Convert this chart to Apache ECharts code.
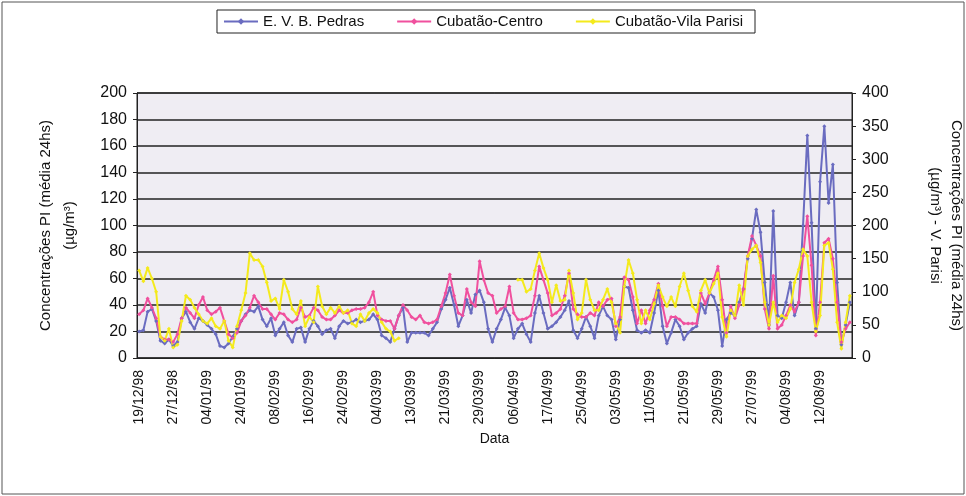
<!DOCTYPE html>
<html>
<head>
<meta charset="utf-8">
<script src="https://cdn.jsdelivr.net/npm/echarts@6/dist/echarts.min.js"></script>
<style>
html, body { margin: 0; padding: 0; background: #fff; }
#chart { width: 966px; height: 496px; }
</style>
</head>
<body>
<div id="chart"></div>
<script>
// datas de amostragem (so cada 8a aparece no eixo)
var datas = [
    '19/12/98', '20/12/98', '21/12/98', '22/12/98', '23/12/98', '24/12/98', '25/12/98', '26/12/98',
    '27/12/98', '28/12/98', '29/12/98', '30/12/98', '31/12/98', '01/01/99', '02/01/99', '03/01/99',
    '04/01/99', '05/01/99', '06/01/99', '07/01/99', '08/01/99', '09/01/99', '10/01/99', '11/01/99',
    '24/01/99', '25/01/99', '26/01/99', '27/01/99', '28/01/99', '29/01/99', '30/01/99', '31/01/99',
    '08/02/99', '09/02/99', '10/02/99', '11/02/99', '12/02/99', '13/02/99', '14/02/99', '15/02/99',
    '16/02/99', '17/02/99', '18/02/99', '19/02/99', '20/02/99', '21/02/99', '22/02/99', '23/02/99',
    '24/02/99', '25/02/99', '26/02/99', '27/02/99', '28/02/99', '01/03/99', '02/03/99', '03/03/99',
    '04/03/99', '05/03/99', '06/03/99', '07/03/99', '08/03/99', '09/03/99', '10/03/99', '11/03/99',
    '13/03/99', '14/03/99', '15/03/99', '16/03/99', '17/03/99', '18/03/99', '19/03/99', '20/03/99',
    '21/03/99', '22/03/99', '23/03/99', '24/03/99', '25/03/99', '26/03/99', '27/03/99', '28/03/99',
    '29/03/99', '30/03/99', '31/03/99', '01/04/99', '02/04/99', '03/04/99', '04/04/99', '05/04/99',
    '06/04/99', '07/04/99', '08/04/99', '09/04/99', '10/04/99', '11/04/99', '12/04/99', '13/04/99',
    '17/04/99', '18/04/99', '19/04/99', '20/04/99', '21/04/99', '22/04/99', '23/04/99', '24/04/99',
    '25/04/99', '26/04/99', '27/04/99', '28/04/99', '29/04/99', '30/04/99', '01/05/99', '02/05/99',
    '03/05/99', '04/05/99', '05/05/99', '06/05/99', '07/05/99', '08/05/99', '09/05/99', '10/05/99',
    '11/05/99', '12/05/99', '13/05/99', '14/05/99', '15/05/99', '16/05/99', '17/05/99', '18/05/99',
    '21/05/99', '22/05/99', '23/05/99', '24/05/99', '25/05/99', '26/05/99', '27/05/99', '28/05/99',
    '29/05/99', '30/05/99', '31/05/99', '01/06/99', '02/06/99', '03/06/99', '04/06/99', '05/06/99',
    '27/07/99', '28/07/99', '29/07/99', '30/07/99', '31/07/99', '01/08/99', '02/08/99', '03/08/99',
    '04/08/99', '05/08/99', '06/08/99', '07/08/99', '08/08/99', '09/08/99', '10/08/99', '11/08/99',
    '12/08/99', '13/08/99', '14/08/99', '15/08/99', '16/08/99', '17/08/99', '18/08/99', '19/08/99'
];

// E. V. B. Pedras (eixo esquerdo)
var pedras = [
    20, 21, 35, 37, 28, 13, 11, 14, 9, 12, 30, 35, 27, 22, 30, 28, 25, 22, 18, 9, 8, 11, 16, 22, 28, 33, 36, 35,
    39, 29, 24, 30, 17, 22, 27, 17, 12, 22, 23, 12, 22, 28, 24, 18, 21, 22, 15, 24, 28, 26, 27, 29, 27, 28, 29, 33,
    29, 17, 15, 12, 22, 32, 38, 12, 19, 19, 19, 19, 17, 22, 27, 37, 44, 53, 40, 24, 32, 44, 34, 48, 51, 42, 22, 12,
    22, 29, 38, 32, 15, 22, 26, 18, 12, 34, 47, 34, 22, 24, 27, 31, 36, 43, 21, 15, 22, 31, 24, 15, 32, 39, 32, 29,
    14, 29, 54, 53, 36, 21, 19, 21, 19, 34, 51, 24, 11, 19, 29, 24, 14, 19, 22, 24, 41, 34, 49, 46, 36, 9, 29, 34,
    32, 42, 52, 75, 90, 112, 95, 57, 25, 111, 32, 30, 42, 57, 32, 42, 100, 168, 102, 22, 133, 175, 117, 146, 57, 10, 25, 42
];

// Cubatão-Centro (eixo esquerdo)
var centro = [
    33, 36, 45, 38, 30, 16, 14, 14, 12, 18, 30, 38, 34, 30, 40, 46, 36, 33, 35, 38, 28, 18, 15, 19, 28, 32, 38, 47,
    42, 37, 37, 33, 29, 34, 33, 29, 27, 29, 38, 31, 32, 38, 36, 31, 29, 29, 32, 36, 34, 34, 36, 37, 37, 38, 42, 50,
    32, 29, 28, 28, 22, 32, 40, 36, 31, 29, 32, 27, 26, 27, 29, 39, 49, 63, 47, 34, 32, 52, 42, 39, 73, 59, 49, 47,
    34, 37, 39, 54, 34, 29, 29, 30, 32, 47, 69, 59, 49, 32, 34, 37, 47, 64, 37, 33, 31, 31, 34, 32, 42, 39, 44, 45,
    24, 31, 61, 59, 46, 26, 36, 26, 36, 44, 56, 39, 24, 31, 31, 29, 26, 26, 26, 26, 49, 41, 49, 59, 69, 44, 19, 39,
    30, 40, 52, 77, 92, 85, 77, 37, 22, 62, 22, 25, 32, 40, 35, 42, 77, 107, 70, 17, 42, 87, 90, 75, 42, 12, 22, 27
];

// Cubatão-Vila Parisi (eixo direito, 0-400)
var parisi = [
    132, 116, 136, 120, 100, 32, 26, 44, 16, 20, 56, 94, 88, 76, 66, 56, 52, 60, 48, 44, 56, 26, 16, 48, 72, 98, 158, 148,
    148, 138, 114, 86, 90, 74, 118, 100, 74, 66, 86, 48, 62, 54, 108, 78, 66, 76, 68, 78, 68, 72, 52, 48, 66, 56, 68, 74,
    68, 54, 44, 40, 26, 30, null, null, null, null, null, null, null, null, null, null, null, null, null, null, null, null, null, null, null, null, null, null,
    null, null, null, null, null, 118, 118, 100, 104, 132, 158, 136, 118, 84, 110, 86, 88, 132, 98, 58, 68, 118, 88, 72, 72, 88, 104, 84,
    52, 38, 108, 148, 128, 88, 52, 72, 58, 82, 110, 92, 78, 92, 78, 108, 128, 102, 78, 70, 102, 118, 98, 112, 128, 62, 32, 72,
    64, 110, 80, 154, 164, 170, 144, 84, 50, 84, 54, 64, 60, 74, 114, 134, 164, 154, 84, 40, 64, 170, 174, 134, 54, 14, 54, 94
];

var fonte = "'Liberation Sans', Arial, sans-serif";
var chart = echarts.init(document.getElementById('chart'));

function serie(nome, dados, cor, eixo) {
    return {
        name: nome,
        type: 'line',
        data: dados,
        yAxisIndex: eixo,
        symbol: 'diamond',
        symbolSize: 4,
        showAllSymbol: true,
        connectNulls: false,
        itemStyle: { color: cor },
        lineStyle: { color: cor, width: 2 }
    };
}

var option = {
    animation: false,
    backgroundColor: '#fff',
    textStyle: { fontFamily: fonte, color: '#111' },
    graphic: [{
        type: 'rect',
        shape: { x: 2, y: 2, width: 962, height: 492 },
        style: { fill: 'none', stroke: '#555', lineWidth: 1 },
        silent: true
    }],
    legend: {
        top: 10,
        left: 'center',
        itemGap: 32,
        itemWidth: 34,
        itemHeight: 8,
        padding: [4, 12, 4, 6],
        borderColor: '#222',
        borderWidth: 1,
        textStyle: { fontFamily: fonte, fontSize: 15, color: '#111' }
    },
    grid: {
        left: 137,
        right: 114,
        top: 93,
        bottom: 138,
        outerBoundsMode: 'none',
        containLabel: false,
        show: true,
        backgroundColor: '#efedf3',
        borderColor: '#222',
        borderWidth: 1
    },
    xAxis: {
        type: 'category',
        data: datas,
        boundaryGap: true,
        name: 'Data',
        nameLocation: 'middle',
        nameGap: 74,
        nameTextStyle: { fontFamily: fonte, fontSize: 14, color: '#111' },
        axisLine: { lineStyle: { color: '#222', width: 1 } },
        axisTick: { interval: 0, length: 4, lineStyle: { color: '#222' } },
        axisLabel: {
            interval: 7,
            rotate: 90,
            fontFamily: fonte,
            fontSize: 14,
            color: '#111',
            margin: 12
        }
    },
    yAxis: [{
        type: 'value',
        min: 0,
        max: 200,
        interval: 20,
        name: 'Concentrações PI (média 24hs)\n(µg/m³)',
        nameLocation: 'middle',
        nameRotate: 90,
        nameGap: 55,
        nameTextStyle: { fontFamily: fonte, fontSize: 15, color: '#111', lineHeight: 24 },
        axisLine: { show: true, lineStyle: { color: '#222' } },
        axisTick: { show: true, length: 4, lineStyle: { color: '#222' } },
        axisLabel: { fontFamily: fonte, fontSize: 16, color: '#111', margin: 10 },
        splitLine: { lineStyle: { color: '#222', width: 1.5 } }
    }, {
        type: 'value',
        min: 0,
        max: 400,
        interval: 50,
        position: 'right',
        name: 'Concentrações PI (média 24hs)\n(µg/m³) - V. Parisi',
        nameLocation: 'middle',
        nameRotate: -90,
        nameGap: 73,
        nameTextStyle: { fontFamily: fonte, fontSize: 15, color: '#111', lineHeight: 21 },
        axisLine: { show: true, lineStyle: { color: '#222' } },
        axisTick: { show: true, length: 4, lineStyle: { color: '#222' } },
        axisLabel: { fontFamily: fonte, fontSize: 16, color: '#111', margin: 10 },
        splitLine: { show: false }
    }],
    series: [
        serie('E. V. B. Pedras', pedras, '#6a6cc0', 0),
        serie('Cubatão-Centro', centro, '#f0509e', 0),
        serie('Cubatão-Vila Parisi', parisi, '#f4ea1c', 1)
    ]
};
chart.setOption(option);
</script>
</body>
</html>
